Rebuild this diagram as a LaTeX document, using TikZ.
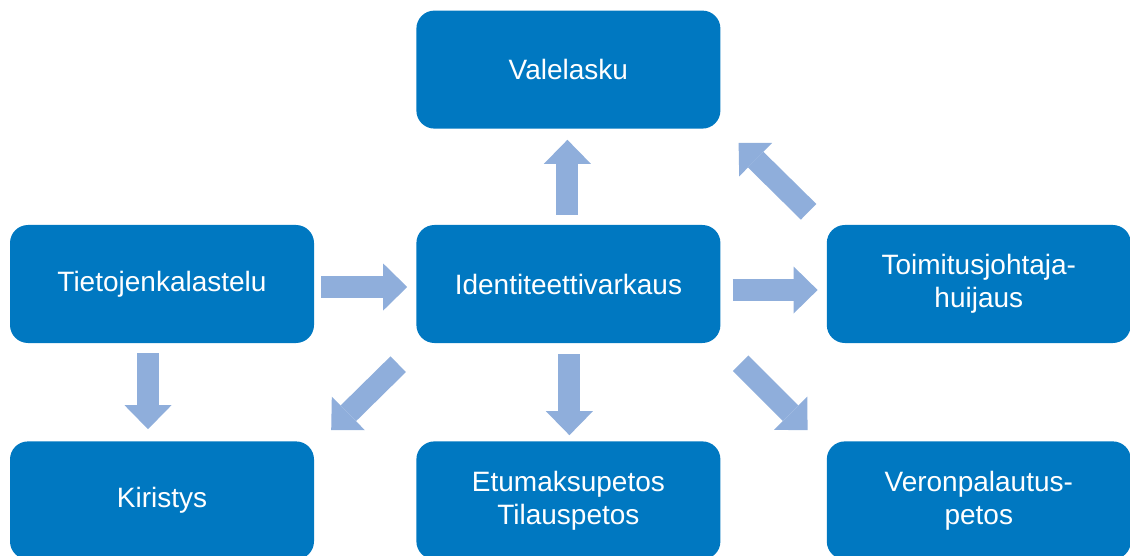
\documentclass[tikz,border=0pt]{standalone}
\usepackage{fontspec}
\setmainfont{Liberation Sans}
\usepackage{tikz}
\usetikzlibrary{arrows.meta, positioning, calc}
\definecolor{boxblue}{HTML}{0078C1}
\definecolor{arrowblue}{HTML}{8FAEDB}
\tikzset{
  topic/.style = {rectangle, rounded corners=18pt, fill=boxblue, text=white,
                  minimum width=304pt, minimum height=118pt, inner sep=0pt,
                  align=center, font=\fontsize{28}{33}\selectfont},
  blk/.style   = {draw=arrowblue, line width=22pt,
                  -{Triangle[width=47pt, length=24pt, line width=0pt]}},
}
\begin{document}
\begin{tikzpicture}[x=1pt, y=-1pt]
  \useasboundingbox (0,0) rectangle (1130,556);

  \node[topic] (tiet) at (162,284) {Tietojenkalastelu};
  \node[topic, right=102pt of tiet] (iden) {Identiteettivarkaus};
  \node[topic, right=106pt of iden] (toim) {Toimitusjohtaja-\\huijaus};
  \node[topic, above=96pt of iden] (vale) {Valelasku};
  \node[topic, below=98pt of tiet] (kiri) {Kiristys};
  \node[topic, below=98pt of iden] (etum) {Etumaksupetos\\Tilauspetos};
  \node[topic, below=98pt of toim] (veron) {Veronpalautus-\\petos};

  % ylarivi
  \draw[blk] ($(iden.north)+(-1,-10)$) -- ($(vale.south)+(-1,11)$);
  \draw[blk] ($(toim.north west)+(-18,-13)$) -- ($(vale.south east)+(18,14)$);

  % keskirivi
  \draw[blk] ($(tiet.east)+(7,3)$) -- ($(iden.west)+(-9,3)$);
  \draw[blk] ($(iden.east)+(12,6)$) -- ($(toim.west)+(-9,6)$);

  % alarivi
  \draw[blk] ($(tiet.south)+(-14,10)$) -- ($(kiri.north)+(-14,-12)$);
  \draw[blk] ($(iden.south west)+(-18,21)$) -- ($(kiri.north east)+(17,-11)$);
  \draw[blk] ($(iden.south)+(1,11)$) -- ($(etum.north)+(1,-6)$);
  \draw[blk] ($(iden.south east)+(20,20)$) -- ($(veron.north west)+(-19,-11)$);
\end{tikzpicture}
\end{document}
